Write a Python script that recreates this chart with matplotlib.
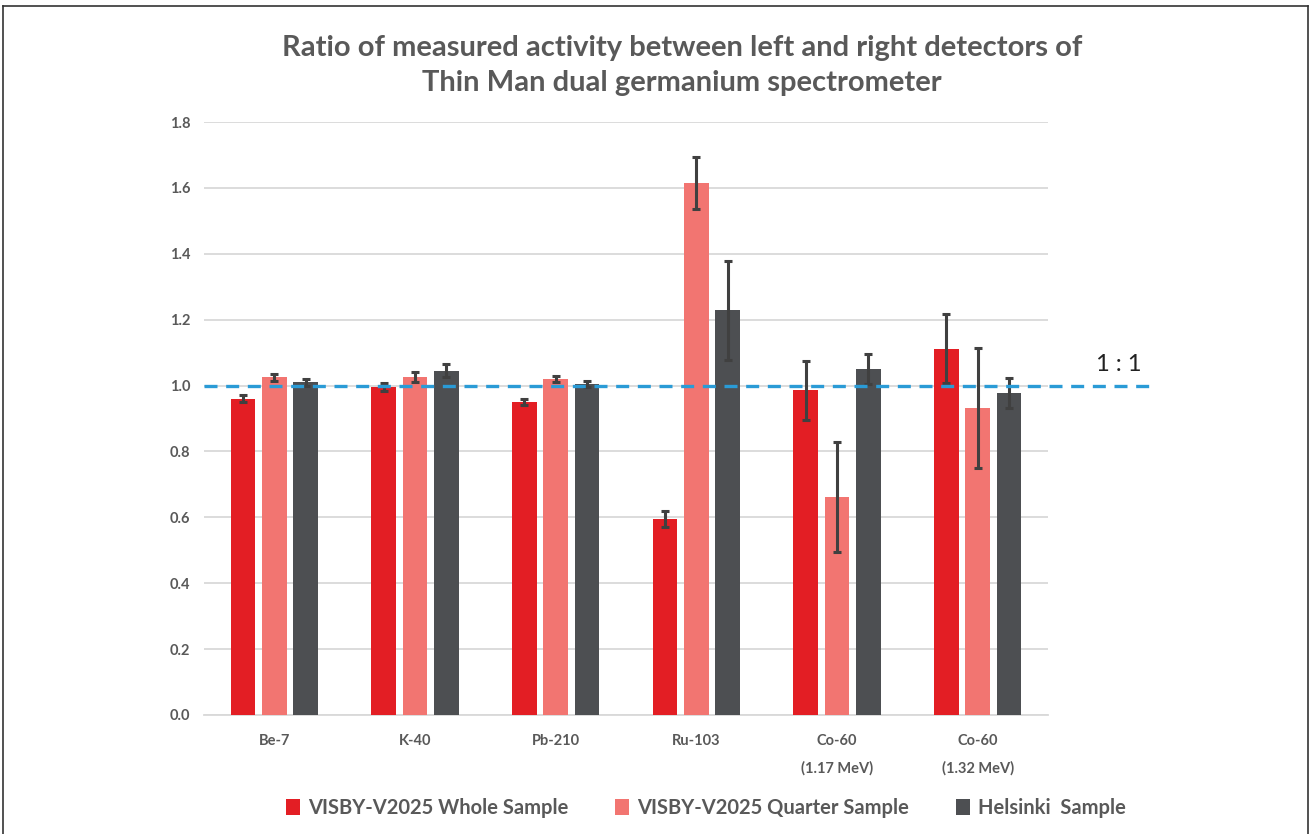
import matplotlib
matplotlib.use("Agg")
import matplotlib.pyplot as plt
from matplotlib.lines import Line2D
from matplotlib.patches import Patch
import numpy as np

plt.rcParams['font.family'] = ['Lato', 'DejaVu Sans']

categories = ["Be-7", "K-40", "Pb-210", "Ru-103", "Co-60", "Co-60"]
sublabels = ["", "", "", "", "(1.17 MeV)", "(1.32 MeV)"]
series_names = ["VISBY-V2025 Whole Sample", "VISBY-V2025 Quarter Sample", "Helsinki  Sample"]
whole = [0.960, 0.995, 0.950, 0.595, 0.985, 1.112]
whole_err = [0.010, 0.012, 0.008, 0.025, 0.090, 0.105]
quarter = [1.025, 1.025, 1.020, 1.615, 0.662, 0.932]
quarter_err = [0.010, 0.015, 0.010, 0.078, 0.168, 0.183]
helsinki = [1.010, 1.045, 1.005, 1.228, 1.050, 0.978]
helsinki_err = [0.010, 0.020, 0.010, 0.150, 0.045, 0.045]
yticks = [0.0, 0.2, 0.4, 0.6, 0.8, 1.0, 1.2, 1.4, 1.6, 1.8]

colors = ["#E31E24", "#F27571", "#4D4F52"]
gray = "#595959"

fig = plt.figure(figsize=(13.12, 8.34), dpi=100)
ax = fig.add_axes([204/1312, 1-715/834, (1048-204)/1312, (715-122)/834])

x = np.arange(len(categories))
w = 0.175
pitch = 0.222
for i, (vals, errs) in enumerate([(whole, whole_err), (quarter, quarter_err), (helsinki, helsinki_err)]):
    ax.bar(x + (i-1)*pitch, vals, width=w, color=colors[i], zorder=3, label=series_names[i],
           yerr=errs, error_kw=dict(ecolor="#404040", elinewidth=2.2, capsize=3, capthick=2.2, zorder=4))

ax.set_xlim(-0.5, len(categories)-0.5)
ax.set_ylim(0, 1.8)
ax.set_yticks(yticks)
ax.set_yticklabels([f"{t:.1f}" for t in yticks], fontsize=10.5, fontweight='bold', color=gray)
ax.set_xticks(x)
ax.set_xticklabels(categories, fontsize=10.5, fontweight='bold', color=gray)
ax.tick_params(axis='both', length=0)
ax.tick_params(axis='x', pad=14)
ax.tick_params(axis='y', pad=10)
ax.grid(axis='y', color='#D9D9D9', linewidth=1.3, zorder=0)
for s in ['top', 'right', 'left']:
    ax.spines[s].set_visible(False)
ax.spines['bottom'].set_color('#D9D9D9')
ax.spines['bottom'].set_linewidth(1.3)

for xi, sl in zip(x, sublabels):
    if sl:
        ax.text(xi, -0.09, sl, transform=ax.get_xaxis_transform(), ha='center', va='center',
                fontsize=10.5, fontweight='bold', color=gray)

# 1:1 reference line
ax.plot([-0.5, 6.24], [1.0, 1.0], color="#2A9BD6", linewidth=2.4, linestyle=(0, (3.9, 2.6)),
        clip_on=False, zorder=5)
ax.text(6.0, 1.063, "1 : 1", fontsize=17, color="#222222", ha='center', va='center')

fig.text(0.52, 0.942, "Ratio of measured activity between left and right detectors of",
         ha='center', va='center', fontsize=21, fontweight='bold', color=gray)
fig.text(0.52, 0.900, "Thin Man dual germanium spectrometer",
         ha='center', va='center', fontsize=21, fontweight='bold', color=gray)

handles = [Patch(facecolor=c) for c in colors]
fig.legend(handles, series_names, loc='center', bbox_to_anchor=(706/1312, 1-808/834), ncol=3,
           frameon=False, handlelength=0.7, handleheight=0.9, handletextpad=0.4,
           columnspacing=2.3, prop=dict(family='Lato', weight='bold', size=14.5),
           labelcolor=gray)

# outer frame
fig.add_artist(Line2D([3/1312, 3/1312], [0, 1-6/834], color='#333333', lw=1.2))
fig.add_artist(Line2D([3/1312, 1308/1312], [1-6/834, 1-6/834], color='#333333', lw=1.2))
fig.add_artist(Line2D([1308/1312, 1308/1312], [0, 1-6/834], color='#333333', lw=1.2))

fig.savefig("out.png", dpi=100)
